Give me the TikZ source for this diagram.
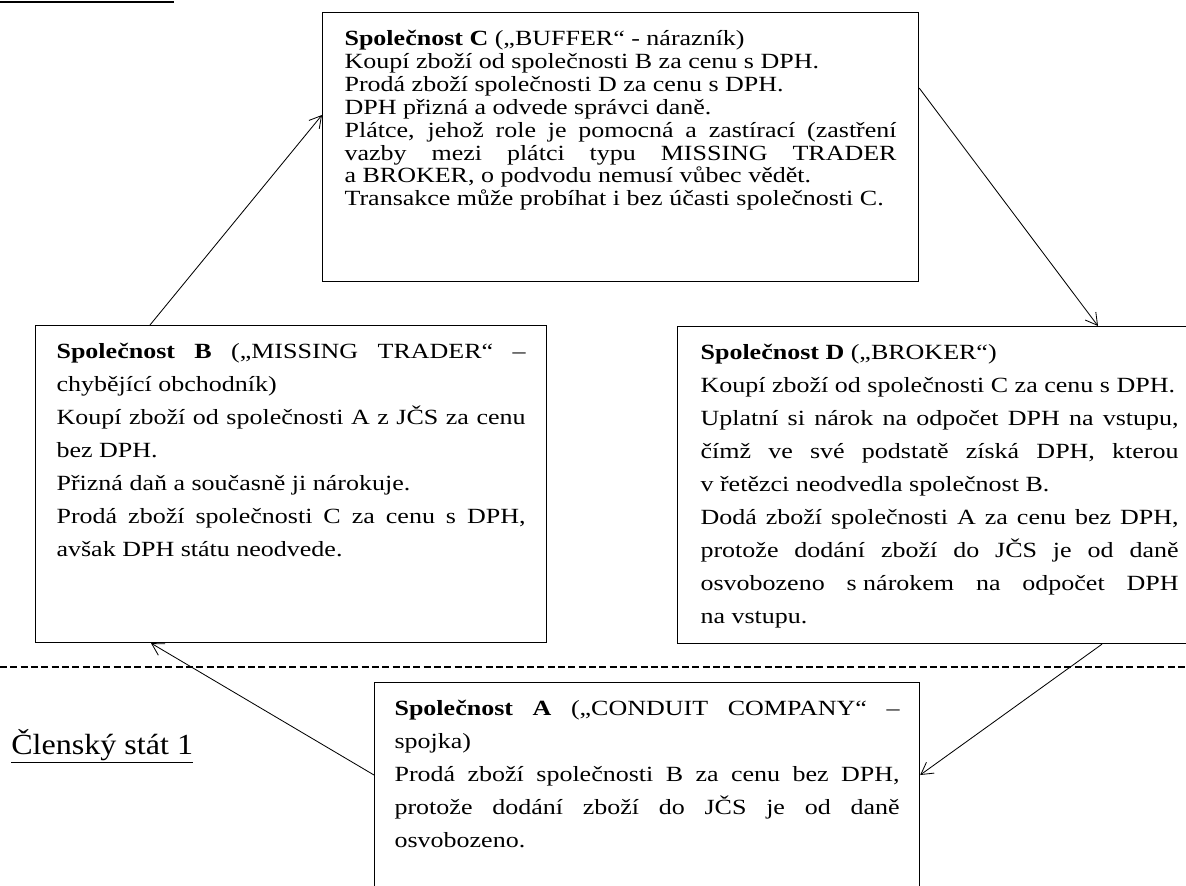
\documentclass[tikz,border=0pt]{standalone}
\usepackage{fontspec}
\setmainfont{Liberation Serif}[FakeStretch=1.2]
\newfontfamily\statfont{Liberation Serif}[FakeStretch=1.1]
\usetikzlibrary{arrows.meta}
\hyphenpenalty=10000
\exhyphenpenalty=10000
\tikzset{x=0.6pt,y=-0.6pt,
  firma/.style={draw,line width=0.7pt,anchor=north west,align=justify,
    inner ysep=10.8pt,text height=9pt,
    font=\fontsize{13}{19.8}\selectfont},
  tok/.style={-{Straight Barb[length=7pt,width=8pt]},line width=0.5pt}}

\begin{document}
\begin{tikzpicture}
        \useasboundingbox (0,0) rectangle (1186,886);

        % hranice mezi staty
        \draw [dash pattern=on 4.2pt off 2pt,line width=1pt] (0,667) -- (1186,667);
        \draw [line width=1.2pt] (0,1.5) -- (174,1.5);

        \node [firma,text width=331.2pt,inner xsep=13.2pt,text depth=130.8pt,
               font=\fontsize{13}{13.74}\selectfont] (c) at (322,12)
          {\textbf{Společnost C} („BUFFER“ - nárazník)\par
           Koupí zboží od společnosti B za cenu s~DPH.\par
           Prodá zboží společnosti D za cenu s~DPH.\par
           DPH přizná a odvede správci daně.\par
           Plátce, jehož role je pomocná a zastírací (zastření\linebreak
           vazby mezi plátci typu MISSING TRADER\linebreak
           a~BROKER, o podvodu nemusí vůbec vědět.\par
           Transakce může probíhat i bez účasti společnosti C.};
        \node [firma,text width=281.4pt,inner xsep=12.6pt,text depth=159.6pt] (b) at (35,325)
          {\textbf{Společnost B} („MISSING TRADER“ –\linebreak
           chybějící obchodník)\par
           Koupí zboží od společnosti A z~JČS za cenu\linebreak
           bez DPH.\par
           Přizná daň a současně ji nárokuje.\par
           Prodá zboží společnosti C za cenu s~DPH,\linebreak
           avšak DPH státu neodvede.};
        \node [firma,text width=286.8pt,inner xsep=13.8pt,text depth=159.6pt] (d) at (677,326)
          {\textbf{Společnost D} („BROKER“)\par
           Koupí zboží od společnosti C za cenu s~DPH.\par
           Uplatní si nárok na odpočet DPH na vstupu,\linebreak
           čímž ve své podstatě získá DPH, kterou\linebreak
           v~řetězci neodvedla společnost B.\par
           Dodá zboží společnosti A za cenu bez DPH,\linebreak
           protože dodání zboží do JČS je od daně\linebreak
           osvobozeno \mbox{s nárokem} na odpočet DPH\linebreak
           na vstupu.};
        \node [firma,text width=303pt,inner xsep=12pt,text depth=124.2pt] (a) at (374,682)
          {\textbf{Společnost A} („CONDUIT COMPANY“ –\linebreak
           spojka)\par
           Prodá zboží společnosti B za cenu bez DPH,\linebreak
           protože dodání zboží do JČS je od daně\linebreak
           osvobozeno.};
        \node [anchor=base west,inner sep=0pt,font=\statfont\fontsize{17.5}{20}\selectfont] (stat) at (11,754)
          {\underline{Členský stát 1}};

        \draw [tok] ([xshift=69pt]b.north west) to ([yshift=-61.8pt]c.north west);
        \draw [tok] ([yshift=-45.6pt]c.north east) to ([xshift=252.6pt]d.north west);
        \draw [tok] ([xshift=255pt]d.south west) to ([yshift=-55.8pt]a.north east);
        \draw [tok] ([yshift=-55.8pt]a.north west) to ([xshift=69.6pt]b.south west);
      \end{tikzpicture}
\end{document}
